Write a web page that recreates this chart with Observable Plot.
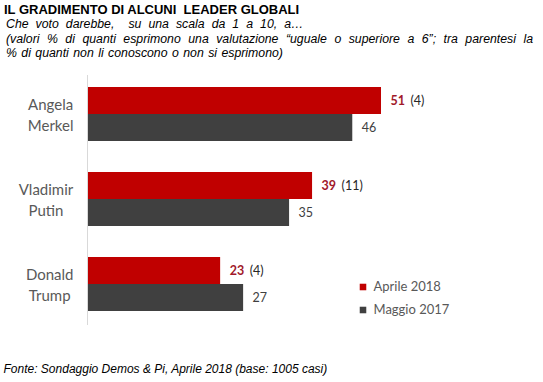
<!DOCTYPE html>
<html>
<head>
<meta charset="utf-8">
<script src="https://cdn.jsdelivr.net/npm/d3@7"></script>
<script src="https://cdn.jsdelivr.net/npm/@observablehq/plot@0.6"></script>
<style>
  html, body { margin: 0; padding: 0; background: #fff; }
  #wrap { position: relative; width: 543px; height: 382px; overflow: hidden; font-family: "Liberation Sans", Arial, sans-serif; color: #000; }
  .abs { position: absolute; white-space: nowrap; }
  #title { left: 4px; top: 3.2px; font-size: 13px; font-weight: bold; line-height: 14.5px; }
  .sub { left: 6px; font-size: 12.3px; font-style: italic; line-height: 14.5px; word-spacing: 1px; }
  #sub3 { width: 527px; text-align: justify; text-align-last: justify; white-space: normal; }
  #footer { left: 3.5px; top: 361.9px; font-size: 12px; font-style: italic; line-height: 14.5px; }
  #chart { position: absolute; left: 0; top: 68px; }
  #legend { position: absolute; left: 355px; top: 275px; }
</style>
</head>
<body>
<div id="wrap">
  <div id="title" class="abs">IL GRADIMENTO DI ALCUNI&nbsp; LEADER GLOBALI</div>
  <div class="abs sub" style="top:17.4px; word-spacing:3.6px">Che voto darebbe,&nbsp; su una scala da 1 a 10, a…</div>
  <div id="sub3" class="abs sub" style="top:31.9px">(valori % di quanti esprimono una valutazione “uguale o superiore a 6”; tra parentesi la</div>
  <div class="abs sub" style="top:46.4px">% di quanti non li conoscono o non si esprimono)</div>
  <div id="chart"></div>
  <div id="legend"></div>
  <div id="footer" class="abs">Fonte: Sondaggio Demos &amp; Pi, Aprile 2018 (base: 1005 casi)</div>
</div>
<script>
const leaders = ["Angela Merkel", "Vladimir Putin", "Donald Trump"];
const leaderLabels = ["Angela\nMerkel", "Vladimir\nPutin", "Donald\nTrump"];
const series = ["Aprile 2018", "Maggio 2017"];
const aprile2018 = [51, 39, 23];
const maggio2017 = [46, 35, 27];
const nonConoscono2018 = [4, 11, 4];
const colors = ["#C00000", "#404040"];

const rowsApr = leaders.map((l, i) => ({leader: l, value: aprile2018[i], nc: nonConoscono2018[i]}));
const rowsMag = leaders.map((l, i) => ({leader: l, value: maggio2017[i]}));
const labelRows = leaders.map((l, i) => ({leader: l, label: leaderLabels[i]}));

const chart = Plot.plot({
  width: 543,
  height: 270,
  marginTop: 7,
  marginBottom: 13,
  marginLeft: 88,
  marginRight: 0,
  x: {domain: [0, 51], range: [88, 381], axis: null},
  y: {domain: leaders, paddingInner: 0.369, paddingOuter: 0.146, align: 0.45, axis: null},
  style: {fontFamily: "Lato, sans-serif", background: "transparent", overflow: "visible"},
  marks: [
    Plot.ruleX([0], {stroke: "#D9D9D9", strokeWidth: 1, dx: -1}),
    Plot.barX(rowsApr, {x: "value", y: "leader", fill: colors[0], insetBottom: 27}),
    Plot.barX(rowsMag, {x: "value", y: "leader", fill: colors[1], insetTop: 27}),
    Plot.text(labelRows, {y: "leader", text: "label", frameAnchor: "left", textAnchor: "end", dx: -15, dy: -1, fontSize: 15, fill: "#595959", lineHeight: 1.4}),
    Plot.text(rowsApr, {x: "value", y: "leader", text: d => String(d.value), dx: 9, dy: -13.5, textAnchor: "start", fontSize: 12.5, fontWeight: "bold", fill: "#A1192B"}),
    Plot.text(rowsApr, {x: "value", y: "leader", text: d => `(${d.nc})`, dx: 29, dy: -13.5, textAnchor: "start", fontSize: 12.5, fill: "#262626"}),
    Plot.text(rowsMag, {x: "value", y: "leader", text: d => String(d.value), dx: 9, dy: 13.5, textAnchor: "start", fontSize: 12.5, fill: "#404040"})
  ]
});
document.getElementById("chart").appendChild(chart);

// centre each two-line label within its own block (block right-aligned to the axis)
d3.select(chart).selectAll("text").filter(function() {
  return this.querySelectorAll("tspan").length > 1;
}).each(function() {
  const w = this.getBBox().width;
  const t = this.getAttribute("transform") || "";
  this.setAttribute("text-anchor", "middle");
  this.style.textAnchor = "middle";
  d3.select(this).selectAll("tspan").attr("text-anchor", "middle");
  this.setAttribute("transform", t + ` translate(${-w / 2},0)`);
});

const legend = Plot.plot({
  width: 120,
  height: 46,
  margin: 0,
  x: {axis: null},
  y: {type: "band", domain: series, padding: 0, axis: null},
  color: {domain: series, range: colors},
  style: {fontFamily: "Lato, sans-serif", background: "transparent", overflow: "visible"},
  marks: [
    Plot.dot(series, {y: d => d, fill: d => d, symbol: "square", r: 3.7, frameAnchor: "left", dx: 7.5}),
    Plot.text(series, {y: d => d, text: d => d, frameAnchor: "left", dx: 18, textAnchor: "start", fontSize: 13, fill: "#595959"})
  ]
});
document.getElementById("legend").appendChild(legend);
</script>
</body>
</html>
